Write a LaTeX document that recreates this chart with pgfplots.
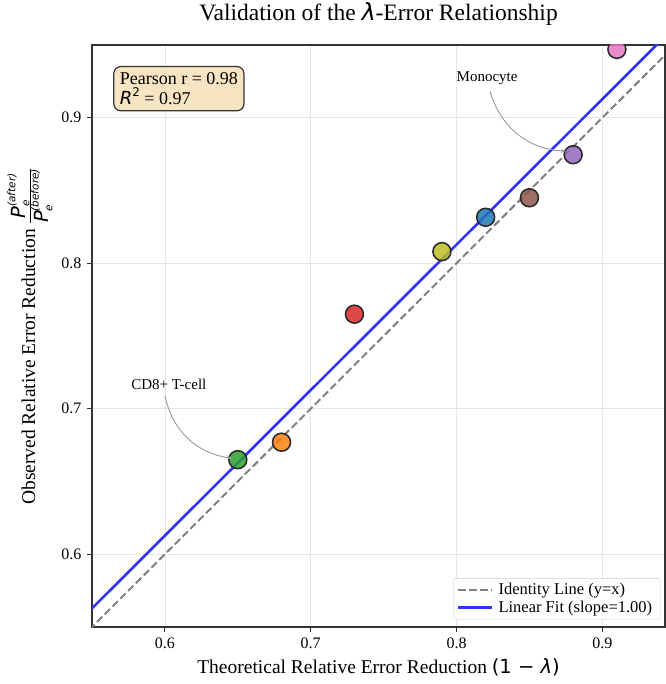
\documentclass[border=0pt]{standalone}
\usepackage{fontspec}
\setmainfont{Liberation Serif}
\newfontfamily\dv{DejaVu Sans}
\usepackage{pgfplots}
\pgfplotsset{compat=1.18}
\usetikzlibrary{arrows.meta}
\definecolor{tblue}{HTML}{1F77B4}
\definecolor{torange}{HTML}{FF7F0E}
\definecolor{tgreen}{HTML}{2CA02C}
\definecolor{tred}{HTML}{D62728}
\definecolor{tpurple}{HTML}{9467BD}
\definecolor{tbrown}{HTML}{8C564B}
\definecolor{tpink}{HTML}{E377C2}
\definecolor{tolive}{HTML}{BCBD22}
\definecolor{fitblue}{HTML}{3333FF}
\definecolor{wheatbox}{HTML}{F7E4C2}
\newcommand{\pt}[2]{\addplot[only marks, mark=*, mark size=9pt, forget plot,
  mark options={fill=#1, fill opacity=0.85, draw=black!85, line width=1.5pt}] coordinates {#2};}
\newcommand{\sm}{\dv\itshape\fontsize{10.5}{11}\selectfont}
\begin{document}
\begin{tikzpicture}
\begin{axis}[
  scale only axis, width=573pt, height=582pt,
  xmin=0.55, xmax=0.943, ymin=0.55, ymax=0.95,
  xtick={0.6,0.7,0.8,0.9}, ytick={0.6,0.7,0.8,0.9},
  xticklabel style={/pgf/number format/fixed, /pgf/number format/precision=1, yshift=-2pt},
  yticklabel style={/pgf/number format/fixed, /pgf/number format/precision=1, xshift=-2pt},
  /pgf/number format/assume math mode=true,
  ticklabel style={font=\fontsize{16}{18}\selectfont},
  tick align=outside, tick pos=left,
  major tick length=5pt,
  tick style={black!80, line width=0.9pt},
  axis line style={black!80, line width=1.2pt},
  grid=major, grid style={black!10, line width=0.8pt},
  title={Validation of the {\dv\itshape λ}-Error Relationship},
  title style={font=\fontsize{23.5}{27}\selectfont, at={(axis description cs:0.5,1.043)}, anchor=center},
  xlabel={Theoretical Relative Error Reduction {\dv(1 − \itshape λ\upshape)}},
  xlabel style={font=\fontsize{19.5}{22}\selectfont, at={(axis description cs:0.5,-0.0687)}, anchor=center},
  ylabel={Observed Relative Error Reduction $\frac{\mbox{\dv\itshape P}^{\mbox{\sm (after)}}_{\mbox{\sm e}}}{\mbox{\dv\itshape P}^{\mbox{\sm (before)}}_{\mbox{\sm e}}}$},
  ylabel style={font=\fontsize{19.5}{22}\selectfont, at={(axis description cs:-0.1082,0.5)}, anchor=center},
  legend style={font=\fontsize{16.5}{18}\selectfont, draw=black!20, rounded corners=2pt,
    at={(0.992,0.013)}, anchor=south east, inner sep=3pt, row sep=1pt,
    nodes={inner xsep=5pt}},
  legend cell align=left,
  legend image post style={xscale=2.0},
  clip=true, clip marker paths=true,
]
\addplot[gray, line width=2pt, dash pattern=on 7.5pt off 3.5pt] coordinates {(0.5,0.5) (1.0,1.0)};
\addlegendentry{Identity Line (y=x)}
\addplot[fitblue, line width=2.6pt] coordinates {(0.5,0.5128) (1.0,1.0128)};
\addlegendentry{Linear Fit (slope=1.00)}
\pt{tgreen}{(0.65,0.665)}
\pt{torange}{(0.68,0.677)}
\pt{tred}{(0.73,0.765)}
\pt{tolive}{(0.79,0.808)}
\pt{tblue}{(0.82,0.8316)}
\pt{tbrown}{(0.85,0.845)}
\pt{tpurple}{(0.88,0.8746)}
\pt{tpink}{(0.91,0.947)}
\draw[-{Stealth[length=5pt,width=4pt]}, black!40, line width=0.9pt]
  (axis cs:0.600,0.709) to[bend right=35] (axis cs:0.646,0.666);
\node[font=\fontsize{15}{16}\selectfont] at (axis cs:0.6027,0.7165) {CD8+ T-cell};
\draw[-{Stealth[length=5pt,width=4pt]}, black!40, line width=0.9pt]
  (axis cs:0.823,0.918) to[bend right=35] (axis cs:0.875,0.877);
\node[font=\fontsize{15}{16}\selectfont] at (axis cs:0.821,0.927) {Monocyte};
\node[anchor=north west, draw=black!80, line width=1.2pt, fill=wheatbox, rounded corners=7pt,
  align=left, inner sep=6pt, font=\fontsize{18}{20}\selectfont]
  at (rel axis cs:0.037,0.964) {Pearson r = 0.98\\{\dv\itshape R}\raisebox{0.45em}{\dv\fontsize{12}{13}\selectfont 2} = 0.97};
\end{axis}
\pgfresetboundingbox
\path[use as bounding box] ([xshift=-92pt,yshift=-57pt]current axis.south west)
  rectangle ([xshift=0.6pt,yshift=45pt]current axis.north east);
\end{tikzpicture}
\end{document}
